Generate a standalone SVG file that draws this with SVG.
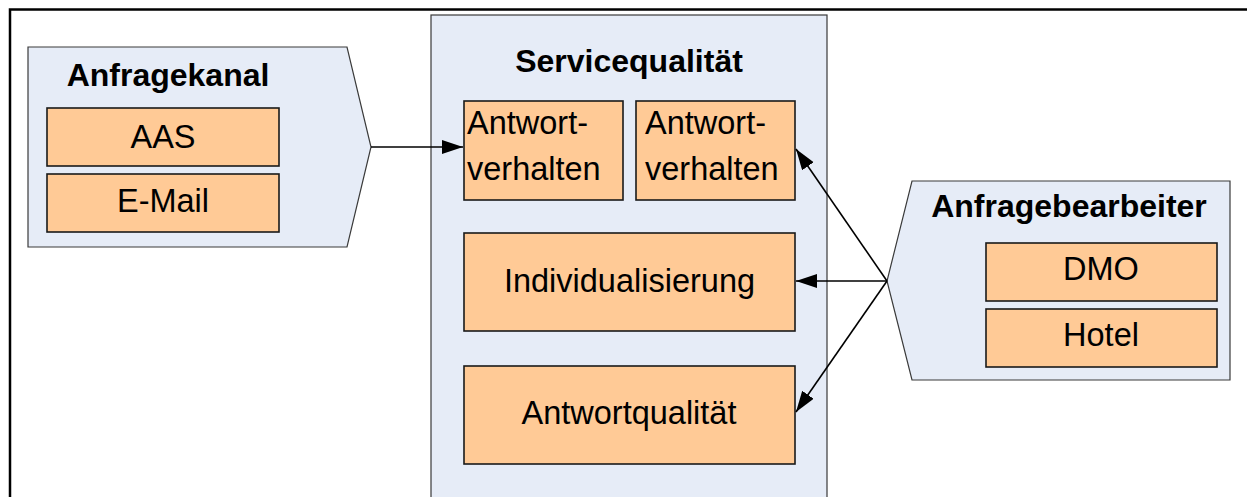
<svg xmlns="http://www.w3.org/2000/svg" width="1247" height="497" viewBox="0 0 1247 497">
<defs>
<style>
.frame{fill:none;stroke:#000;stroke-width:2.5}
.cont{fill:#E6ECF7;stroke:#3a3a3a;stroke-width:1.2}
.box{fill:#FFCA96;stroke:#1a1a1a;stroke-width:1.6}
.t{font-family:"Liberation Sans",Arial,sans-serif;font-size:32.5px;fill:#000}
.b{font-family:"Liberation Sans",Arial,sans-serif;font-size:32px;font-weight:bold;fill:#000}
.c{text-anchor:middle}
.con{stroke:#000;stroke-width:1.6;fill:none;marker-end:url(#ah)}
</style>
<marker id="ah" markerWidth="22" markerHeight="16" refX="21" refY="7" orient="auto" markerUnits="userSpaceOnUse">
<path d="M0,0 L21,7 L0,14 Z" fill="#000"/>
</marker>
</defs>
<rect width="1247" height="497" fill="#fff"/>
<path class="frame" d="M10,497 L10,9.5 L1247,9.5"/>
<g id="anfragekanal">
<polygon class="cont" points="28,47 347,47 371,147 347,247 28,247"/>
<text class="b c" x="168" y="86">Anfragekanal</text>
<g id="aas"><rect class="box" x="47" y="108" width="232" height="58"/><text class="t c" x="163" y="148">AAS</text></g>
<g id="email"><rect class="box" x="47" y="174" width="232" height="58"/><text class="t c" x="163" y="212">E-Mail</text></g>
</g>
<g id="servicequalitaet">
<rect class="cont" x="431" y="15" width="396" height="495"/>
<text class="b c" x="629" y="72">Servicequalität</text>
<g id="antwortverhalten1"><rect class="box" x="464" y="101" width="159" height="99"/><text class="t" x="467" y="134">Antwort-</text><text class="t" x="467" y="180">verhalten</text></g>
<g id="antwortverhalten2"><rect class="box" x="636" y="101" width="159" height="99"/><text class="t" x="645" y="134">Antwort-</text><text class="t" x="645" y="180">verhalten</text></g>
<g id="individualisierung"><rect class="box" x="464" y="233" width="331" height="98"/><text class="t c" x="629.5" y="292">Individualisierung</text></g>
<g id="antwortqualitaet"><rect class="box" x="464" y="366" width="331" height="98"/><text class="t c" x="629" y="424">Antwortqualität</text></g>
</g>
<g id="anfragebearbeiter">
<polygon class="cont" points="912,181 1230,181 1230,380 912,380 887,281"/>
<text class="b c" x="1069" y="217">Anfragebearbeiter</text>
<g id="dmo"><rect class="box" x="986" y="243" width="231" height="58"/><text class="t c" x="1101" y="280">DMO</text></g>
<g id="hotel"><rect class="box" x="986" y="309" width="231" height="58"/><text class="t c" x="1101" y="346">Hotel</text></g>
</g>
<g id="connectors">
<line class="con" x1="371" y1="147" x2="463" y2="147"/>
<line class="con" x1="887" y1="281" x2="796" y2="149"/>
<line class="con" x1="887" y1="281" x2="796" y2="281"/>
<line class="con" x1="887" y1="281" x2="796" y2="412"/>
</g>
</svg>
